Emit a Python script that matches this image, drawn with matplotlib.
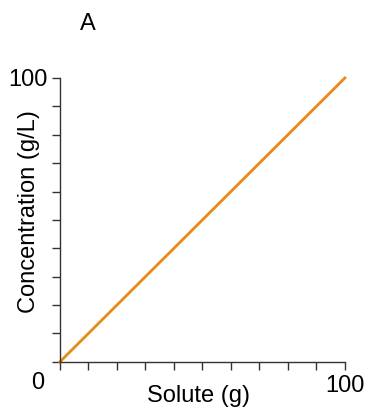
import numpy as np
import matplotlib
matplotlib.use('Agg')
import matplotlib.pyplot as plt

# data
solute = [0, 100]
concentration = [0, 100]
tick_vals = list(range(0, 101, 10))
tick_labels = [''] * 10 + ['100']

plt.rcParams['font.family'] = ['Liberation Sans', 'DejaVu Sans']
FS = 17

fig = plt.figure(figsize=(3.65, 4.08), dpi=100)
ax = fig.add_axes([0.164, 0.113, 0.781, 0.696])

ax.plot(solute, concentration, color='#E8891A', lw=2, clip_on=False)

ax.set_xlim(0, 100)
ax.set_ylim(0, 100)
ax.set_xticks(tick_vals)
ax.set_xticklabels(tick_labels)
ax.set_yticks(tick_vals)
ax.set_yticklabels(tick_labels)
ax.tick_params(length=6, width=1, color='#333333', labelsize=FS)
ax.tick_params(axis='x', pad=3.5)
ax.tick_params(axis='y', pad=3)
for s in ['top', 'right']:
    ax.spines[s].set_visible(False)
for s in ['left', 'bottom']:
    ax.spines[s].set_color('#333333')
    ax.spines[s].set_linewidth(1)

ax.set_xlabel('Solute (g)', fontsize=FS)
ax.xaxis.set_label_coords(0.488, -0.08)
ax.set_ylabel('Concentration (g/L)', fontsize=FS)
ax.yaxis.set_label_coords(-0.07, 0.53)

# corner zero label
ax.text(-7.7, -7.4, '0', fontsize=FS, ha='center', va='center')
fig.text(88 / 365, 1 - 24 / 408, 'A', fontsize=FS, ha='center', va='center')

fig.savefig('out.png', dpi=100)
